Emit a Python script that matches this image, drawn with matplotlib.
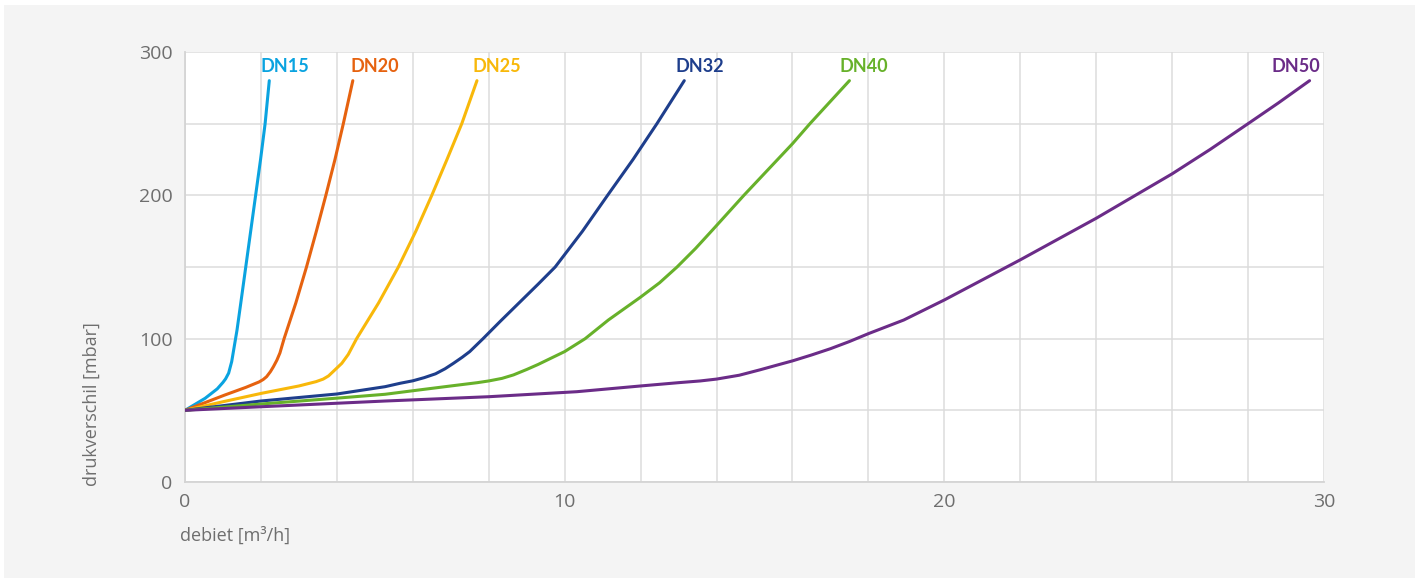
import matplotlib.pyplot as plt
from matplotlib.patches import Rectangle

# Drukverschil (mbar) tegen debiet (m3/h)
dn15_x = [0, 0.53, 0.85, 1.0, 1.07, 1.15, 1.23, 1.3, 1.37, 1.47, 1.6, 1.73, 1.86, 1.99, 2.11, 2.22]
dn15_y = [50, 58.4, 65, 69.5, 72, 76, 84, 95, 106, 125, 150, 175, 200, 225, 250, 280]

dn20_x = [0, 1.05, 1.6, 1.95, 2.06, 2.15, 2.25, 2.33, 2.42, 2.5, 2.61, 2.92, 3.2, 3.46, 3.71, 3.95, 4.17, 4.42]
dn20_y = [50, 60.7, 66, 69.8, 71.5, 73.5, 77, 80.5, 85, 90, 100, 125, 150, 175, 200, 225, 250, 280]

dn25_x = [0, 1.0, 2.02, 3.0, 3.45, 3.64, 3.78, 3.9, 4.13, 4.3, 4.52, 5.1, 5.62, 6.08, 6.5, 6.9, 7.29, 7.69]
dn25_y = [50, 56, 61.9, 67, 70, 71.8, 74, 77, 82.8, 89, 100, 125, 150, 175, 200, 225, 250, 280]

dn32_x = [0, 2.0, 4.0, 5.27, 5.67, 6.0, 6.3, 6.6, 6.85, 7.07, 7.3, 7.5, 7.85, 8.3, 8.8, 9.3, 9.75, 10.47, 11.13, 11.8, 12.43, 13.15]
dn32_y = [50, 56.5, 61.4, 66.5, 68.9, 70.6, 72.8, 75.5, 79, 82.8, 87, 91, 100, 112, 125, 138, 150, 175, 200, 225, 250, 280]

dn40_x = [0, 2.0, 4.0, 5.27, 6.1, 7.0, 7.7, 8.0, 8.35, 8.65, 9.0, 9.3, 9.65, 10.0, 10.54, 11.15, 12.0, 12.5, 12.96, 13.45, 13.9, 14.72, 16.0, 16.46, 17.5]
dn40_y = [50, 54.4, 58.5, 61.2, 64, 67, 69.3, 70.5, 72.3, 74.7, 78.5, 82, 86.5, 91, 100, 113, 129, 139, 150, 163, 176, 200, 236, 250, 280]

dn50_x = [0, 2.0, 5.27, 8.0, 10.32, 12.0, 13.0, 13.57, 14.0, 14.6, 15.15, 15.6, 16.0, 16.5, 17.0, 17.5, 18.0, 18.93, 20.0, 21.0, 22.0, 23.0, 24.0, 25.0, 26.0, 27.0, 28.0, 28.8, 29.62]
dn50_y = [50, 52.5, 56.5, 59.5, 63, 67, 69.3, 70.5, 71.8, 74.5, 78.3, 81.6, 84.5, 88.6, 93, 98, 103.5, 113, 127, 141, 155, 169.5, 184, 199.5, 215, 232, 250, 264.5, 280]

series = [
    ('DN15', dn15_x, dn15_y, '#0aa3e0'),
    ('DN20', dn20_x, dn20_y, '#e6620f'),
    ('DN25', dn25_x, dn25_y, '#f8b80a'),
    ('DN32', dn32_x, dn32_y, '#1e3e8c'),
    ('DN40', dn40_x, dn40_y, '#67b12a'),
    ('DN50', dn50_x, dn50_y, '#6b2c88'),
]

# linkerkant van de labels (in debiet-eenheden)
label_x = {'DN15': 2.0, 'DN20': 4.35, 'DN25': 7.56, 'DN32': 12.93, 'DN40': 17.25, 'DN50': 28.63}

plt.rcParams['font.family'] = ['Open Sans', 'DejaVu Sans']
grey = '#6e6e6e'

fig = plt.figure(figsize=(14.15, 5.78), dpi=100, facecolor='white')
fig.patches.append(Rectangle((4 / 1415, 0), 1, (578 - 5) / 578, transform=fig.transFigure,
                             facecolor='#f4f4f4', edgecolor='none', zorder=-10))

ax = fig.add_axes([185 / 1415, 96 / 578, (1324 - 185) / 1415, (482 - 52) / 578])
ax.set_facecolor('white')

for name, xs, ys, color in series:
    ax.plot(xs, ys, color=color, lw=2.2, solid_capstyle='round', solid_joinstyle='round', zorder=3)
    ax.text(label_x[name], 290, name, color=color, fontsize=13, fontweight='bold',
            family=['Lato', 'DejaVu Sans'], ha='left', va='center', zorder=4)

ax.set_xlim(0, 30)
ax.set_ylim(0, 300)
ax.set_xticks(range(0, 31, 2))
ax.set_xticklabels([str(v) if v % 10 == 0 else '' for v in range(0, 31, 2)])
ax.set_yticks(range(0, 301, 50))
ax.set_yticklabels([str(v) if v % 100 == 0 else '' for v in range(0, 301, 50)])
ax.grid(True, color='#dcdcdc', lw=1.1, zorder=0)
ax.set_axisbelow(True)
for side in ['top', 'right']:
    ax.spines[side].set_visible(False)
for side in ['left', 'bottom']:
    ax.spines[side].set_color('#d4d4d4')
    ax.spines[side].set_linewidth(1.3)
ax.tick_params(length=0, colors=grey, labelsize=14)
ax.tick_params(axis='x', pad=8)
ax.tick_params(axis='y', pad=9)

fig.text(180 / 1415, 1 - 536 / 578, 'debiet [m³/h]', color=grey, fontsize=13,
         ha='left', va='center')
fig.text(92 / 1415, 1 - 404 / 578, 'drukverschil [mbar]', color=grey, fontsize=13,
         ha='center', va='center', rotation=90)

fig.savefig('out.png', dpi=100, facecolor=fig.get_facecolor())
